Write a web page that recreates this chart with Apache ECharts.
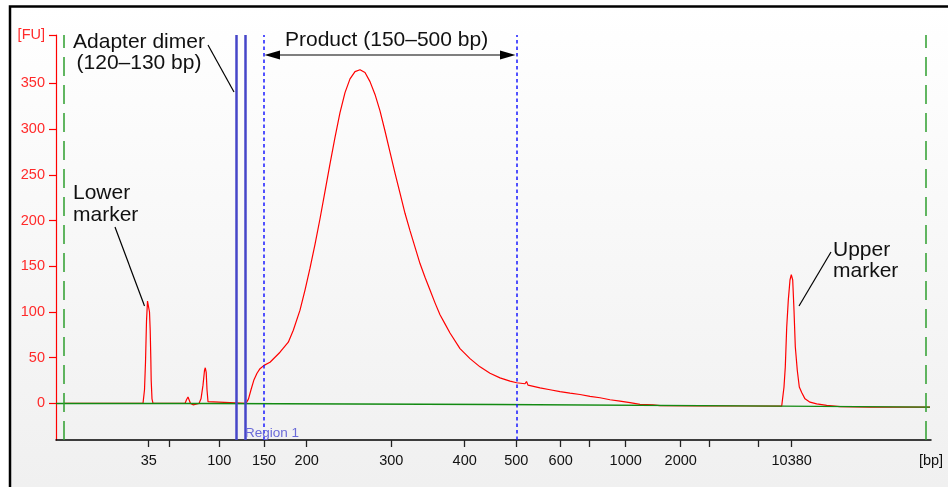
<!DOCTYPE html>
<html><head><meta charset="utf-8">
<script src="https://cdn.jsdelivr.net/npm/echarts@6/dist/echarts.min.js"></script>
<style>html,body{margin:0;padding:0;background:#fff}#c{width:948px;height:487px}</style>
</head><body><div id="c"></div>
<script>
// Migration time (s) and fluorescence (FU) of the sample trace
const migrationTime = [40.8,48.7,48.85,48.95,49.05,49.15,49.25,49.35,49.42,49.48,49.52,49.6,49.7,52.9,53.05,53.2,53.35,53.45,53.55,53.7,53.85,54.3,54.5,54.7,54.85,54.93,55.02,55.1,55.2,55.3,59.0,59.05,59.25,59.5,59.8,60.1,60.4,60.8,61.4,62.4,63.23,63.73,64.4,64.9,65.4,65.9,66.4,66.9,67.4,67.9,68.4,68.9,69.4,69.9,70.4,70.9,71.4,71.9,72.4,72.9,73.4,73.9,74.4,74.9,75.4,75.9,76.4,76.9,77.4,77.9,78.4,78.9,79.4,80.4,81.4,82.4,83.4,84.4,85.4,86.07,86.9,87.05,87.2,88.4,89.4,90.4,91.4,92.4,93.4,94.4,95.4,96.4,97.4,98.4,99.7,100.4,104.4,109.0,112.57,112.8,112.93,113.07,113.23,113.4,113.53,113.67,113.8,113.93,114.13,114.33,114.57,114.9,115.4,116.07,117.07,118.4,121.4,127.4];
const fluorescence = [0,0,15,45,90,112,113,100,80,50,25,5,0,0,4,7,5,0,-1.5,-1.5,0,0,5,20,36,39,34,15,2,0,0,0.5,5,15,26,33,38,41.6,45,56,67,80,102,124,148,174,202,232,262,291,318,340,355,363,365,362,352,338,320,298,275,252,230,208,189,171,153,138,124,110,97,87,77,60,49,40,33,28,24.4,22.6,21.5,24,20,17,15,13,11.3,9.8,7.7,6.2,4,2.5,0.8,-1,-1.5,-2.5,-2.6,-2.8,-2.9,18,40,83,113,135,141,135,102,62,36,18,12,5,1.4,-0.4,-2.2,-3.5,-4,-4];
// Baseline
const baselineTime = [40.0,55.2,55.25,84.0,84.05,112.6,112.65,127.4];
const baselineFU = [0,0,-1.1,-1.1,-2.5,-2.9,-4,-4];
// Ladder ticks (migration time -> bp label)
const ladderTime = [49.27,51.33,56.33,60.8,65.07,73.53,80.87,86.03,90.47,93.37,96.97,102.47,105.37,110.2,113.57];
const ladderLabels = ['35','','100','150','200','300','400','500','600','','1000','2000','','','10380'];
const xUnitLabelPos = 127.5; const xUnitLabel = '[bp]';
const fuTicks = [0,50,100,150,200,250,300,350];
const yUnitLabelPos = 403; const yUnitLabel = '[FU]';
// Region / marker lines (migration time)
const adapterLines = [58.07, 58.93];   // 120, 130 bp
const regionLines = [60.8, 86.03];     // 150, 500 bp
const markerLines = [40.8, 127.0];     // lower / upper marker window

const chart = echarts.init(document.getElementById('c'), null, {renderer:'canvas'});
const sans = '"Liberation Sans", Arial, sans-serif';

function mk(vals, style){ return vals.map(v => ({xAxis: v, lineStyle: style})); }

const txt = (t, x, y, align) => ({
  type:'text', z: 50,
  style:{text:t, x:x, y:y, font:'21px '+sans, fontSize:21, fontFamily:sans, fill:'#111',
         textAlign:align||'left', align:align||'left', textVerticalAlign:'middle', verticalAlign:'middle'}
});
const seg = (x1,y1,x2,y2) => ({type:'line', z:50, shape:{x1,y1,x2,y2}, style:{stroke:'#000', lineWidth:1.2}});

chart.setOption({
  animation:false,
  backgroundColor:'#ffffff',
  grid:{left:56, right:17, top:35, bottom:47, containLabel:false},
  xAxis:{
    type:'value', min:40, max:127.5,
    axisLine:{onZero:false, lineStyle:{color:'#000', width:1.5}},
    axisTick:{customValues:ladderTime, length:7, lineStyle:{color:'#222', width:1.3}},
    axisLabel:{customValues:ladderTime.concat([xUnitLabelPos]), margin:13, color:'#111', fontSize:14.5, fontFamily:sans,
      formatter:function(v){ if (Math.abs(v-xUnitLabelPos)<1e-6) return xUnitLabel; const i = ladderTime.findIndex(t=>Math.abs(t-v)<1e-6); return i>=0?ladderLabels[i]:''; }},
    splitLine:{show:false}
  },
  yAxis:{
    type:'value', min:-40, max:403,
    axisLine:{lineStyle:{color:'#ff0000', width:1.2}},
    axisTick:{customValues:fuTicks.concat([yUnitLabelPos]), length:7, lineStyle:{color:'#ff0000', width:1.2}},
    axisLabel:{customValues:fuTicks.concat([yUnitLabelPos]), margin:11, color:'#ff2a2a', fontSize:14.5, fontFamily:sans,
      formatter:function(v){ return Math.abs(v-yUnitLabelPos)<1e-6 ? yUnitLabel : String(v); }},
    splitLine:{show:false}
  },
  graphic:[
    {type:'rect', z:-10, shape:{x:10, y:6.5, width:1000, height:1000},
     style:{fill:new echarts.graphic.LinearGradient(0,0,0,1,[{offset:0,color:'#ffffff'},{offset:0.48,color:'#f0f0f0'}]), stroke:'#000', lineWidth:2.5}},
    txt('Adapter dimer', 139, 42, 'center'),
    txt('(120–130 bp)', 139, 63, 'center'),
    seg(208,45,234,92),
    txt('Product (150–500 bp)', 285, 40, 'left'),
    seg(279,55,501,55),
    {type:'polygon', z:50, shape:{points:[[264.5,55],[280,50.5],[280,59.5]]}, style:{fill:'#000'}},
    {type:'polygon', z:50, shape:{points:[[515.5,55],[500,50.5],[500,59.5]]}, style:{fill:'#000'}},
    txt('Lower', 73, 193, 'left'),
    txt('marker', 73, 215, 'left'),
    seg(115,227,144.5,306),
    txt('Upper', 833, 250, 'left'),
    txt('marker', 833, 271, 'left'),
    seg(831,252,799,306),
    {type:'text', z:50, style:{text:'Region 1', x:245, y:433, font:'13.5px '+sans, fontSize:13.5, fontFamily:sans, fill:'#6a6ad8',
      textAlign:'left', align:'left', textVerticalAlign:'middle', verticalAlign:'middle'}}
  ],
  series:[
    {type:'line', name:'sample', data:migrationTime.map((t,i)=>[t, fluorescence[i]]), showSymbol:false, z:3,
     lineStyle:{color:'#ff0000', width:1.2}, silent:true},
    {type:'line', name:'baseline', data:baselineTime.map((t,i)=>[t, baselineFU[i]]), showSymbol:false, z:4,
     lineStyle:{color:'#128a12', width:1.4}, silent:true,
     markLine:{silent:true, symbol:['none','none'], label:{show:false}, animation:false,
       data: mk(markerLines, {color:'#2e9e2e', width:1.5, type:[19,9]})
         .concat(mk(adapterLines, {color:'#4646c8', width:2.5, type:'solid'}))
         .concat(mk(regionLines, {color:'#1a1aff', width:1.5, type:[3.5,3]}))
     }}
  ]
});
</script></body></html>
